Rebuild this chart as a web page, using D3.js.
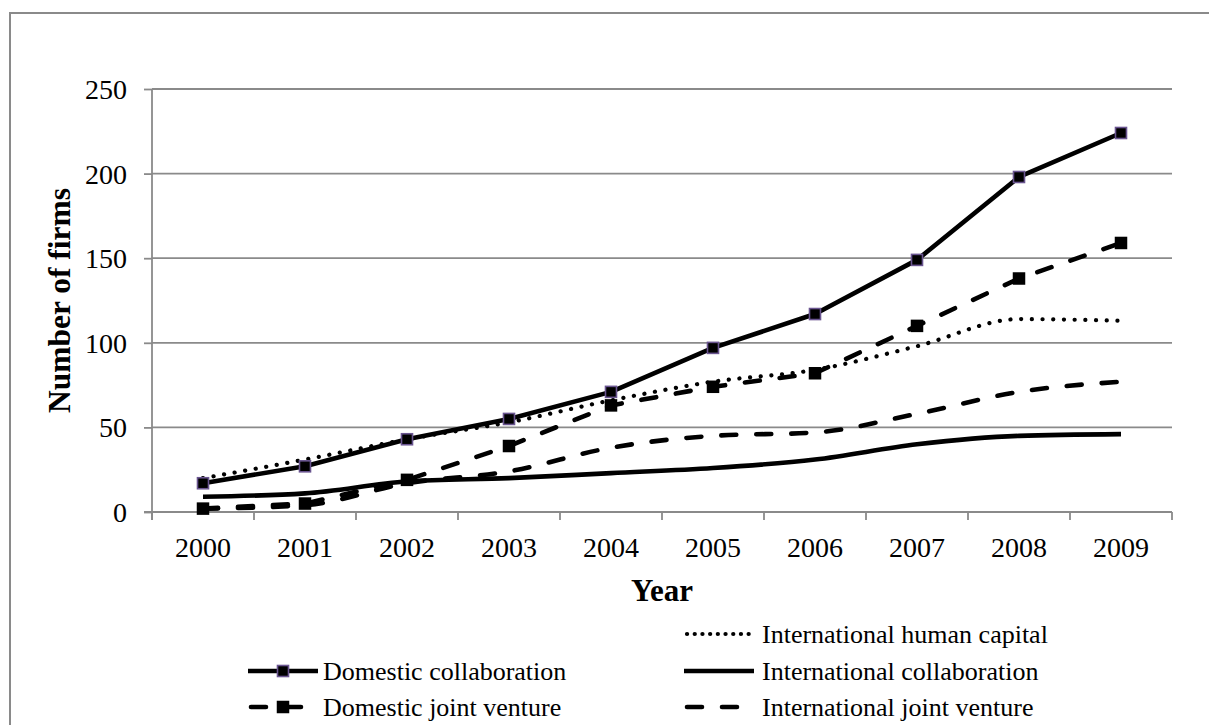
<!DOCTYPE html>
<html>
<head>
<meta charset="utf-8">
<script src="https://cdn.jsdelivr.net/npm/d3@7"></script>
<style>
  html, body { margin: 0; padding: 0; background: #fff; }
  svg text { font-family: "Liberation Serif", "Times New Roman", serif; fill: #000; }
</style>
</head>
<body>
<svg id="chart" width="1209" height="725"></svg>
<script>
const years = ["2000","2001","2002","2003","2004","2005","2006","2007","2008","2009"];
const yTicks = [0, 50, 100, 150, 200, 250];
const domesticCollaboration = [17, 27, 43, 55, 71, 97, 117, 149, 198, 224];
const domesticJointVenture = [2, 5, 19, 39, 63, 74, 82, 110, 138, 159];
const internationalHumanCapital = [20, 31, 43, 53, 66, 77, 84, 98, 114, 113];
const internationalCollaboration = [9, 11, 18, 20, 23, 26, 31, 40, 45, 46];
const internationalJointVenture = [2, 4, 17, 24, 38, 45, 47, 58, 71, 77];
const seriesNames = ["International human capital", "Domestic collaboration", "International collaboration", "Domestic joint venture", "International joint venture"];

const svg = d3.select("#chart");
const gray = "#8a8a8a";
const pLeft = 152, pRight = 1172, pTop = 89, pBottom = 512;

// outer chart border (extends beyond the picture on right and bottom)
svg.append("rect").attr("x", 10).attr("y", 13).attr("width", 1400).attr("height", 900)
  .attr("fill", "none").attr("stroke", gray).attr("stroke-width", 2);

const x = d3.scaleBand().domain(years).range([pLeft, pRight]).padding(0);
const y = d3.scaleLinear().domain([0, 250]).range([pBottom, pTop]);
const cx = d => x(d) + x.bandwidth() / 2;

// gridlines
svg.append("g").selectAll("line").data(yTicks.filter(t => t > 0)).join("line")
  .attr("x1", pLeft).attr("x2", pRight)
  .attr("y1", d => y(d)).attr("y2", d => y(d))
  .attr("stroke", gray).attr("stroke-width", 1.8);

// y axis
const yAxis = svg.append("g").attr("transform", `translate(${pLeft},0)`)
  .call(d3.axisLeft(y).tickValues(yTicks).tickSize(8).tickPadding(17).tickFormat(d3.format("d")));
yAxis.select(".domain").attr("stroke", gray).attr("stroke-width", 1.8).attr("d", `M0,${pTop}V${pBottom + 8}`);
yAxis.selectAll(".tick line").attr("stroke", gray).attr("stroke-width", 1.8);
yAxis.selectAll(".tick text").attr("font-size", 28).attr("font-family", "Liberation Serif").attr("dy", "0.34em");

// x axis
const xAxis = svg.append("g").attr("transform", `translate(0,${pBottom})`)
  .call(d3.axisBottom(x).tickSize(0).tickPadding(25));
xAxis.select(".domain").attr("stroke", gray).attr("stroke-width", 1.8).attr("d", `M${pLeft - 8},0H${pRight}`);
xAxis.selectAll(".tick text").attr("font-size", 28).attr("font-family", "Liberation Serif");
const boundaries = years.map(d => x(d)).concat([x(years[years.length - 1]) + x.bandwidth()]);
xAxis.append("g").selectAll("line").data(boundaries).join("line")
  .attr("x1", d => d).attr("x2", d => d).attr("y1", 0).attr("y2", 8)
  .attr("stroke", gray).attr("stroke-width", 1.8);

// axis titles
svg.append("text").attr("x", (pLeft + pRight) / 2).attr("y", 601)
  .attr("text-anchor", "middle").attr("font-size", 31).attr("font-weight", "bold").text("Year");
svg.append("text").attr("transform", `translate(70,${(pTop + pBottom) / 2}) rotate(-90)`)
  .attr("text-anchor", "middle").attr("font-size", 31.5).attr("font-weight", "bold").text("Number of firms");

const smooth = d3.line().x((d, i) => cx(years[i])).y(d => y(d)).curve(d3.curveMonotoneX);
const straight = d3.line().x((d, i) => cx(years[i])).y(d => y(d)).curve(d3.curveLinear);

const styles = {
  "International human capital": { data: internationalHumanCapital, dash: "0.1,10.6", width: 4.2, cap: "round", gen: smooth },
  "Domestic collaboration": { data: domesticCollaboration, dash: null, width: 4.6, cap: "butt", marker: "purple", gen: straight },
  "International collaboration": { data: internationalCollaboration, dash: null, width: 4.6, cap: "butt", gen: smooth },
  "Domestic joint venture": { data: domesticJointVenture, dash: "15,20", width: 4.6, cap: "round", marker: "black", gen: straight },
  "International joint venture": { data: internationalJointVenture, dash: "15,20", width: 4.6, cap: "round", gen: smooth }
};
const drawOrder = ["International collaboration", "International joint venture", "Domestic joint venture", "International human capital", "Domestic collaboration"];

drawOrder.forEach(name => {
  const s = styles[name];
  svg.append("path").datum(s.data).attr("d", s.gen)
    .attr("fill", "none").attr("stroke", "#000").attr("stroke-width", s.width)
    .attr("stroke-linecap", s.cap).attr("stroke-linejoin", "round").attr("stroke-dasharray", s.dash);
});
// markers
const markerSize = m => m === "purple" ? 11 : 12.5;
["Domestic joint venture", "Domestic collaboration"].forEach(name => {
  const s = styles[name];
  const size = markerSize(s.marker);
  svg.append("g").selectAll("rect").data(s.data).join("rect")
    .attr("x", (d, i) => cx(years[i]) - size / 2).attr("y", d => y(d) - size / 2)
    .attr("width", size).attr("height", size)
    .attr("fill", "#000")
    .attr("stroke", s.marker === "purple" ? "#6a5590" : "none").attr("stroke-width", 1.6);
});

// legend
const legendItems = [
  { name: "International human capital", col: 1, row: 0 },
  { name: "Domestic collaboration", col: 0, row: 1 },
  { name: "International collaboration", col: 1, row: 1 },
  { name: "Domestic joint venture", col: 0, row: 2 },
  { name: "International joint venture", col: 1, row: 2 }
];
const colX = [248, 684], rowY = [634, 671, 707], lineLen = 70;
legendItems.forEach(it => {
  const s = styles[it.name];
  const x0 = colX[it.col], yy = rowY[it.row];
  const g = svg.append("g");
  let dash = s.dash;
  if (s.dash === "0.1,10.6") dash = "0.1,7.6";
  g.append("line").attr("x1", x0 + (s.cap === "round" ? 3 : 0)).attr("x2", x0 + lineLen - (s.cap === "round" ? 3 : 0))
    .attr("y1", yy).attr("y2", yy)
    .attr("stroke", "#000").attr("stroke-width", s.width).attr("stroke-linecap", s.cap)
    .attr("stroke-dasharray", dash);
  if (s.marker) {
    const size = markerSize(s.marker);
    g.append("rect").attr("x", x0 + lineLen / 2 - size / 2).attr("y", yy - size / 2)
      .attr("width", size).attr("height", size).attr("fill", "#000")
      .attr("stroke", s.marker === "purple" ? "#6a5590" : "none").attr("stroke-width", 1.6);
  }
  g.append("text").attr("x", x0 + lineLen + (it.col === 0 ? 5 : 8)).attr("y", yy)
    .attr("dy", "0.33em").attr("font-size", 26).text(it.name);
});
</script>
</body>
</html>
